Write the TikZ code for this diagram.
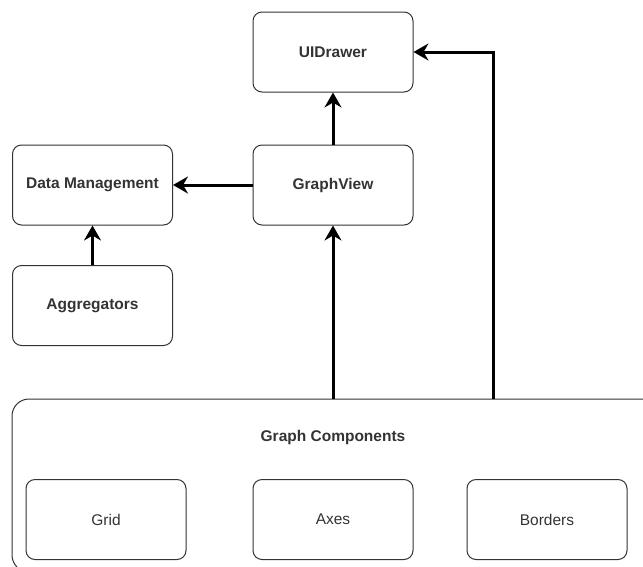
\documentclass[tikz,border=0pt]{standalone}
\usepackage{fontspec}
\setmainfont{Liberation Sans}
\usetikzlibrary{arrows.meta}
\definecolor{boxline}{HTML}{333333}
\definecolor{txt}{HTML}{333333}
\begin{document}
\begin{tikzpicture}[x=1pt,y=-1pt,
  box/.style={draw=boxline,line width=1pt,rounded corners=9pt,minimum width=160pt,minimum height=80pt,inner sep=0pt,text=txt,font=\fontsize{15.5}{18}\selectfont},
  bbox/.style={box,font=\fontsize{15.5}{18}\selectfont\bfseries},
  conn/.style={line width=3pt,-{Stealth[length=15pt,width=17pt,inset=5pt]}}]
\useasboundingbox (0,0) rectangle (643,566);
\clip (0,0) rectangle (643,566);
\node[bbox] (ui) at (333,52) {UIDrawer};
\node[bbox] (gv) at (333,185) {GraphView};
\node[bbox] (dm) at (92.5,185) {Data Management};
\node[bbox] (ag) at (92.5,305.5) {Aggregators};
\node[draw=boxline,line width=1pt,rounded corners=17pt,minimum width=646pt,minimum height=173pt,inner sep=0pt] (gc) at (335,485.5) {};
\node[text=txt,font=\fontsize{15.5}{18}\selectfont\bfseries] (gct) at (333,437) {Graph Components};
\node[box] (grid) at (106,519.5) {Grid};
\node[box] (axes) at (333,519.5) {Axes};
\node[box] (borders) at (547,519.5) {Borders};
\coordinate (c) at (493,399);
\draw[conn] (gv) -- (ui);
\draw[conn] (gv) -- (dm);
\draw[conn] (ag) -- (dm);
\draw[conn] (gv |- gc.north) -- (gv.south);
\draw[conn] (c) |- (ui.east);
\end{tikzpicture}
\end{document}
